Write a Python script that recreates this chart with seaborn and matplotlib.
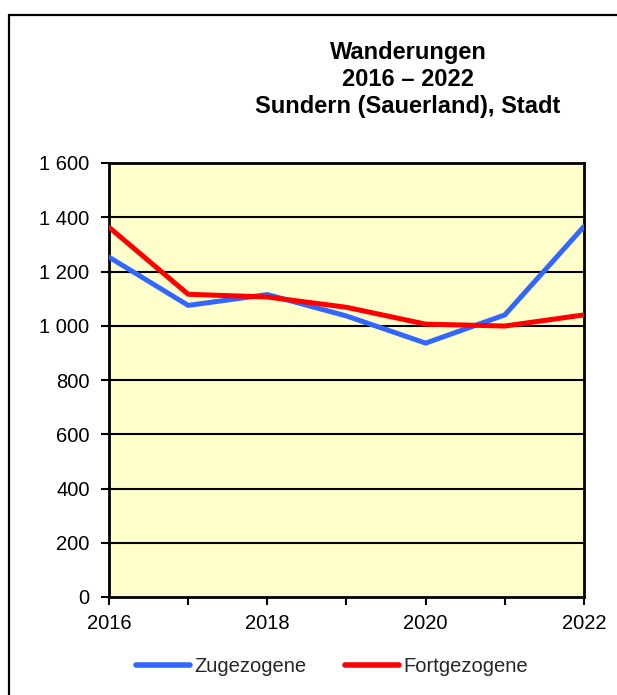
import matplotlib
matplotlib.use("Agg")
import matplotlib.pyplot as plt
import numpy as np
import pandas as pd
import seaborn as sns
from matplotlib.patches import Rectangle

# Data
years = [2016, 2017, 2018, 2019, 2020, 2021, 2022]
zugezogene = [1253, 1075, 1115, 1036, 936, 1040, 1366]
fortgezogene = [1363, 1116, 1106, 1068, 1006, 999, 1040]
series_names = ['Zugezogene', 'Fortgezogene']
title_lines = ['Wanderungen', '2016 \u2013 2022', 'Sundern (Sauerland), Stadt']
yticks = [0, 200, 400, 600, 800, 1000, 1200, 1400, 1600]

df = pd.DataFrame({
    'Jahr': years * 2,
    'Personen': zugezogene + fortgezogene,
    'Art': [series_names[0]] * len(years) + [series_names[1]] * len(years),
})

sns.set_theme(style='white')
plt.rcParams['font.family'] = ['Liberation Sans', 'DejaVu Sans']

fig = plt.figure(figsize=(6.17, 6.95), dpi=100)
ax = fig.add_axes([109 / 617, 1 - 597 / 695, 475 / 617, 434 / 695])
ax.set_facecolor('#FFFFCC')

# outer frame (only left/top visible in the reference)
fig.patches.append(Rectangle((8.5 / 617, -0.05), 1.2, (1 - 14.5 / 695) + 0.05,
                             transform=fig.transFigure, fill=False,
                             edgecolor='black', linewidth=1.6, zorder=0))

for y in yticks[1:]:
    ax.axhline(y, color='black', linewidth=1.5, zorder=1)

sns.lineplot(data=df, x='Jahr', y='Personen', hue='Art', ax=ax,
             palette={'Zugezogene': '#3366FF', 'Fortgezogene': '#FF0000'},
             linewidth=3.6, legend=False, zorder=3)

ax.set_xlim(2016, 2022)
ax.set_ylim(0, 1600)
ax.set_xticks(years)
ax.set_xticklabels([str(y) if y % 2 == 0 else '' for y in years])
ax.set_yticks(yticks)
ax.set_yticklabels([f'{v:,}'.replace(',', ' ') for v in yticks])
ax.set_xlabel('')
ax.set_ylabel('')
ax.tick_params(axis='both', direction='out', length=6, width=1.5,
               color='black', labelsize=14.5, labelcolor='black')
ax.tick_params(axis='x', pad=6)
ax.tick_params(axis='y', pad=8)
ax.xaxis.set_ticks_position('bottom')
ax.yaxis.set_ticks_position('left')
for s in ax.spines.values():
    s.set_color('black')
    s.set_linewidth(2)

for i, line in enumerate(title_lines):
    fig.text(408 / 617, 1 - (52 + 27.5 * i) / 695, line, ha='center', va='center',
             fontsize=17, fontweight='bold', color='black')

handles = [plt.Line2D([], [], color='#3366FF', linewidth=4, solid_capstyle='round'),
           plt.Line2D([], [], color='#FF0000', linewidth=4, solid_capstyle='round')]
fig.legend(handles, series_names, loc='center', bbox_to_anchor=(332 / 617, 1 - 667 / 695),
           ncol=2, frameon=False, fontsize=14.5, handlelength=2.7, handletextpad=0.2,
           columnspacing=1.9)

fig.savefig('out.png', dpi=100)
